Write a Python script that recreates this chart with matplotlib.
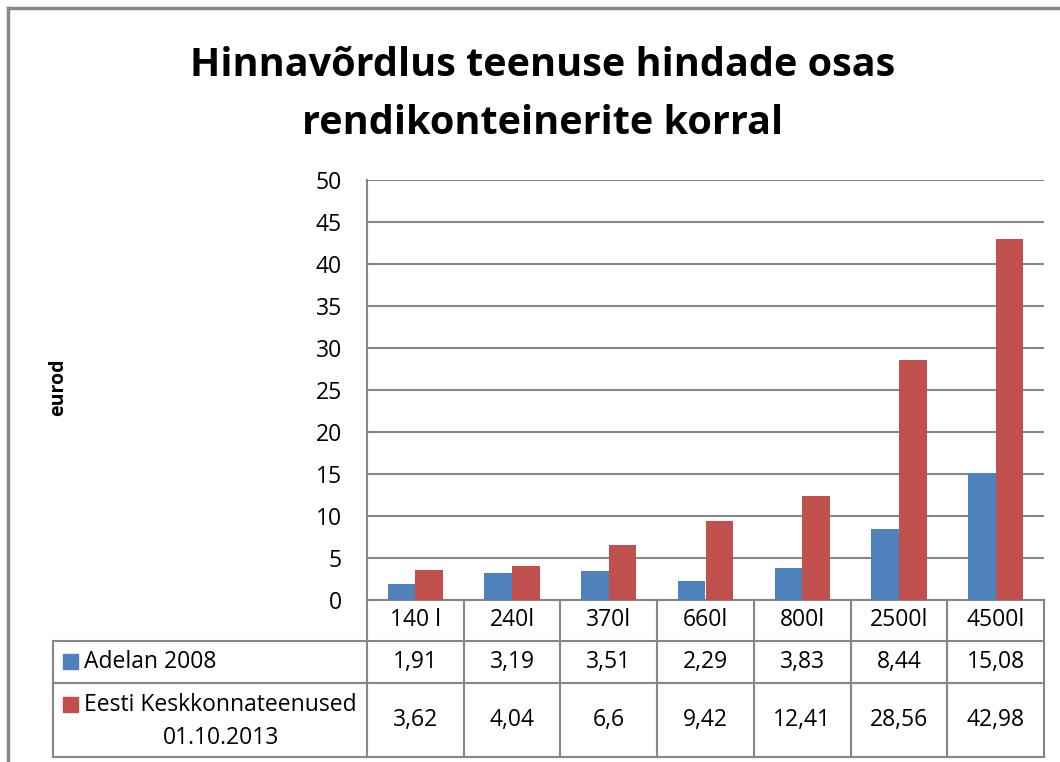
import matplotlib
matplotlib.use("Agg")
import matplotlib.pyplot as plt
from matplotlib.lines import Line2D
from matplotlib.patches import Rectangle
import numpy as np

categories = ["140 l", "240l", "370l", "660l", "800l", "2500l", "4500l"]
series_names = ["Adelan 2008", "Eesti Keskkonnateenused\n01.10.2013"]
adelan = [1.91, 3.19, 3.51, 2.29, 3.83, 8.44, 15.08]
eesti = [3.62, 4.04, 6.6, 9.42, 12.41, 28.56, 42.98]
value_labels_adelan = ["1,91", "3,19", "3,51", "2,29", "3,83", "8,44", "15,08"]
value_labels_eesti = ["3,62", "4,04", "6,6", "9,42", "12,41", "28,56", "42,98"]
yticks = [0, 5, 10, 15, 20, 25, 30, 35, 40, 45, 50]

BLUE = "#4F81BD"
RED = "#C0504D"
GRID = "#868686"
FONT = ["Open Sans", "DejaVu Sans"]
FS = 16.5

W, H = 1060, 762
fig = plt.figure(figsize=(W / 100, H / 100), dpi=100)

def fx(px):
    return px / W

def fy(py):
    return 1 - py / H

# figure border (only left/top visible)
fig.add_artist(Line2D([fx(8), fx(8)], [fy(8), 0], color="#888888", lw=2.5))
fig.add_artist(Line2D([fx(8), 1], [fy(8), fy(8)], color="#888888", lw=2.5))

# title
fig.text(fx(543), fy(66), "Hinnavõrdlus teenuse hindade osas", ha="center", va="center",
         fontsize=28.5, fontweight="bold", family=FONT)
fig.text(fx(543), fy(123), "rendikonteinerite korral", ha="center", va="center",
         fontsize=28.5, fontweight="bold", family=FONT)

ax_left, ax_right, ax_top, ax_bot = 367, 1044, 180, 600
ax = fig.add_axes([fx(ax_left), fy(ax_bot), (ax_right - ax_left) / W, (ax_bot - ax_top) / H])

x = np.arange(len(categories))
bw = 1 / 3.5
ax.bar(x - bw / 2, adelan, width=bw, color=BLUE, zorder=3)
ax.bar(x + bw / 2, eesti, width=bw, color=RED, zorder=3)

ax.set_xlim(-0.5, len(categories) - 0.5)
ax.set_ylim(0, 50)
ax.set_yticks(yticks)
ax.set_yticklabels([str(t) for t in yticks], fontsize=FS, family=FONT)
ax.tick_params(axis="y", length=0, pad=18)
ax.set_xticks([])
ax.yaxis.grid(True, color=GRID, lw=1.5, zorder=0)
for s in ["top", "right"]:
    ax.spines[s].set_visible(False)
ax.spines["left"].set_color(GRID)
ax.spines["bottom"].set_color(GRID)
ax.spines["left"].set_linewidth(1.5)
ax.spines["bottom"].set_linewidth(1.5)

fig.text(fx(58), fy(387), "eurod", rotation=90, ha="center", va="center",
         fontsize=14, fontweight="bold", family=FONT)

# data table below the axes
tr = ax.get_xaxis_transform()  # x in data, y in axes fraction
axh = ax_bot - ax_top

def ay(py):
    return (ax_bot - py) / axh

row_header_bot, row1_bot, row2_bot = 641, 683, 757
lkw = dict(color=GRID, lw=1.5, clip_on=False, transform=tr)
for b in np.arange(-0.5, len(categories), 1.0):
    ax.add_line(Line2D([b, b], [ay(ax_bot), ay(row2_bot)], **lkw))
for yy in [row_header_bot, row1_bot, row2_bot]:
    ax.add_line(Line2D([-0.5, len(categories) - 0.5], [ay(yy), ay(yy)], **lkw))
leg_left = 53
fkw = dict(color=GRID, lw=1.5)
for yy in [row_header_bot, row1_bot, row2_bot]:
    fig.add_artist(Line2D([fx(leg_left), fx(ax_left)], [fy(yy), fy(yy)], **fkw))
fig.add_artist(Line2D([fx(leg_left), fx(leg_left)], [fy(row_header_bot), fy(row2_bot)], **fkw))

tkw = dict(ha="center", va="center", fontsize=FS, family=FONT, transform=tr, clip_on=False)
for i, c in enumerate(categories):
    ax.text(i, ay(620), c, **tkw)
    ax.text(i, ay(662), value_labels_adelan[i], **tkw)
    ax.text(i, ay(720), value_labels_eesti[i], **tkw)

# legend entries
fig.add_artist(Rectangle((fx(63), fy(669)), 15 / W, 15 / H, color=BLUE))
fig.text(fx(84), fy(662), series_names[0], ha="left", va="center", fontsize=FS, family=FONT)
fig.add_artist(Rectangle((fx(63), fy(712)), 15 / W, 15 / H, color=RED))
name1, name2 = series_names[1].split("\n")
fig.text(fx(84), fy(705), name1, ha="left", va="center", fontsize=FS, family=FONT)
fig.text(fx(221), fy(738), name2, ha="center", va="center", fontsize=FS, family=FONT)

fig.savefig("out.png", dpi=100)
